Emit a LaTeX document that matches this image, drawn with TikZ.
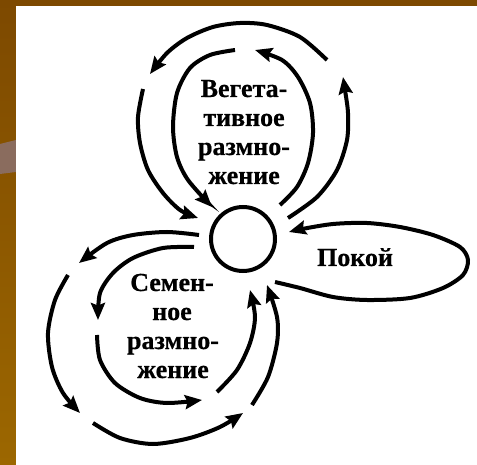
\documentclass[tikz,border=0pt]{standalone}
\usepackage{fontspec}
\setmainfont{Liberation Serif}
\newfontfamily\heavyserif[FakeBold=0.6]{Liberation Serif Bold}
\usetikzlibrary{arrows.meta}
\definecolor{bordertop}{HTML}{7D4900}
\definecolor{borderbot}{HTML}{9C6700}
\definecolor{bandgrey}{HTML}{8A6C5E}
\begin{document}
\begin{tikzpicture}[x=1pt,y=-1pt,
  flow/.style={line width=4pt, line cap=butt, -{Stealth[length=17pt,width=14pt,inset=2.5pt]}},
  lbl/.style={font=\fontsize{26}{30}\heavyserif, anchor=base, inner sep=0pt}]
\useasboundingbox (0,0) rectangle (477,465);
% background
\fill[bordertop] (0,0) rectangle (477,6);
\shade[top color=bordertop, bottom color=borderbot] (0,0) rectangle (16,465);
\fill[bandgrey] (0,144) -- (16,140) -- (16,172) -- (0,174) -- cycle;
\fill[white] (16,6) rectangle (477,465);
% central circle
\node[circle, draw, line width=4pt, minimum size=64pt, inner sep=0pt] (c) at (243,239) {};
% vegetative loops
\draw[flow] plot[smooth] coordinates {(288,218) (317,197) (337,170) (347,140) (348,113) (345,90) (343,77)};
\draw[flow] plot[smooth] coordinates {(327,60) (300,37) (267,25) (240,23) (213,27) (187,38) (167,53) (150,74)};
\draw[flow] plot[smooth] coordinates {(143,89) (138,117) (140,143) (148,170) (163,193) (180,210) (198,218)};
\draw[flow] plot[smooth] coordinates {(280,205) (297,187) (308,163) (313,133) (310,103) (298,77) (282,60) (255,50)};
\draw[flow] plot[smooth] coordinates {(235,50) (210,55) (190,68) (177,93) (173,127) (177,157) (188,180) (212,207)};
% seed loops outer
\draw[flow] plot[smooth] coordinates {(199,235) (167,232) (133,235) (107,243) (79,263)};
\draw[flow] plot[smooth] coordinates {(68,275) (55,300) (48,333) (52,367) (63,393) (80,413)};
\draw[flow] plot[smooth] coordinates {(93,423) (120,438) (153,444) (190,438) (220,427) (243,413)};
\draw[flow] plot[smooth] coordinates {(252,405) (268,377) (277,343) (277,317) (267,285)};
% seed loops inner
\draw[flow] plot[smooth] coordinates {(194,247) (163,248) (133,258) (113,273) (100,293) (98,320)};
\draw[flow] plot[smooth] coordinates {(97,335) (100,360) (115,383) (140,398) (167,403) (202,400)};
\draw[flow] plot[smooth] coordinates {(217,392) (237,370) (250,343) (255,317) (250,290)};
% rest loop
\draw[flow] plot[smooth] coordinates {(275,282) (300,288) (333,297) (367,300) (410,298) (443,288) (463,275) (468,260) (460,247) (433,235) (400,227) (367,223) (333,224) (302,229) (289,232)};
% labels
\node[lbl] (v1) at (244,97) {Вегета-};
\node[lbl] (v2) at (244,126) {тивное};
\node[lbl] (v3) at (244,155) {размно-};
\node[lbl] (v4) at (244,184) {жение};
\node[lbl] (s1) at (172,291) {Семен-};
\node[lbl] (s2) at (172,320) {ное};
\node[lbl] (s3) at (173,349) {размно-};
\node[lbl] (s4) at (173,378) {жение};
\node[lbl] (p) at (355,266) {Покой};
\end{tikzpicture}
\end{document}
